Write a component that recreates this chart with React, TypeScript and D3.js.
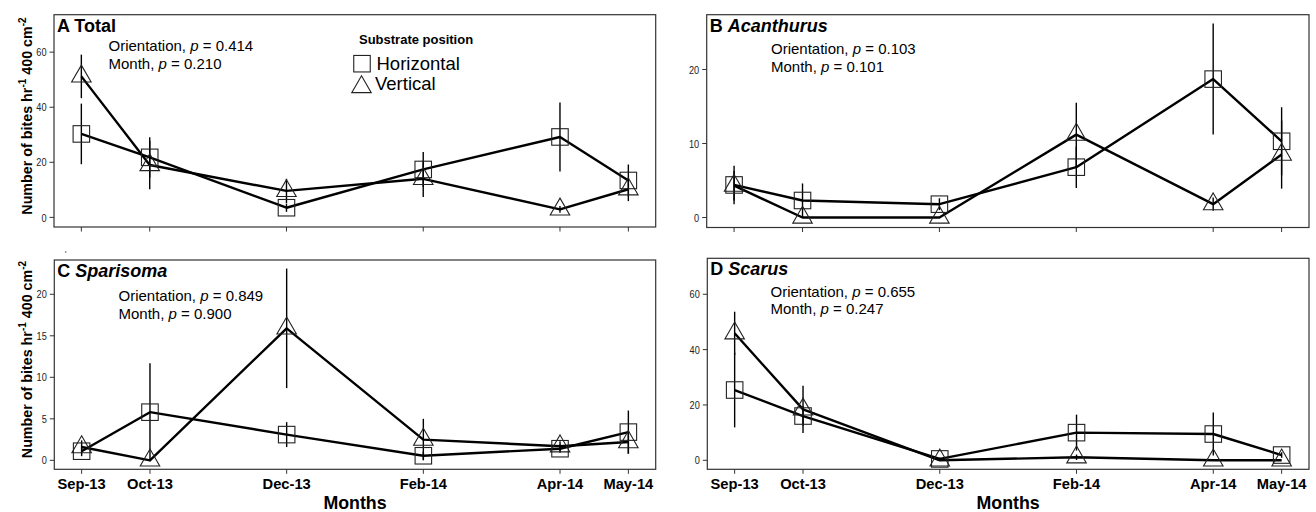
import React, { useRef, useEffect } from 'react';
import * as d3 from 'd3';

// sampling months and their position in months from Sep-13
const months = ["Sep-13", "Oct-13", "Dec-13", "Feb-14", "Apr-14", "May-14"];
const monthIndex = [0, 1, 3, 5, 7, 8];

// A Total
const totalHorizontal = [30.3, 21.8, 3.5, 17.4, 29.2, 13.4];
const totalHorizontalSE = [11.0, 7.3, 1.5, 6.3, 12.5, 5.8];
const totalVertical = [51.2, 19.0, 9.6, 14.0, 2.9, 10.2];
const totalVerticalSE = [7.9, 8.8, 4.4, 6.6, 1.2, 4.3];

// B Acanthurus
const acanHorizontal = [4.4, 2.3, 1.8, 6.8, 18.7, 10.3];
const acanHorizontalSE = [2.6, 2.3, 0.8, 2.8, 7.5, 4.6];
const acanVertical = [4.3, 0, 0, 11.2, 1.8, 8.5];
const acanVerticalSE = [2.0, 0, 0, 4.3, 0.9, 4.6];

// C Sparisoma
const sparHorizontal = [1.1, 5.8, 3.1, 0.55, 1.4, 3.4];
const sparHorizontalSE = [0.6, 5.9, 1.5, 0.5, 0.5, 2.6];
const sparVertical = [1.6, 0, 15.9, 2.5, 1.7, 2.2];
const sparVerticalSE = [0.8, 0, 7.2, 2.5, 0.6, 1.4];

// D Scarus
const scarHorizontal = [25.4, 16.0, 0.5, 10.0, 9.5, 1.9];
const scarHorizontalSE = [13.5, 3.5, 0.5, 6.5, 7.8, 1.0];
const scarVertical = [45.9, 18.4, 0, 1.1, 0, 0];
const scarVerticalSE = [7.8, 8.5, 0, 1.0, 0, 0];

const yTicksA = [0, 20, 40, 60];
const yTicksB = [0, 10, 20];
const yTicksC = [0, 5, 10, 15, 20];
const yTicksD = [0, 20, 40, 60];

const stats = {
    A: ["0.414", "0.210"],
    B: ["0.103", "0.101"],
    C: ["0.849", "0.900"],
    D: ["0.655", "0.247"],
};

const FONT = '"Liberation Sans", Arial, Helvetica, sans-serif';

const panels = [
    { letter: "A", name: "Total", italic: false, h: totalHorizontal, hse: totalHorizontalSE, v: totalVertical, vse: totalVerticalSE,
      ticks: yTicksA, yDomain: [-3.5, 73.6], box: [54, 655.7, 14.7, 227], stat: [108.5, 51, 68.5], yLabel: 116, xLabels: false, legend: true },
    { letter: "B", name: "Acanthurus", italic: true, h: acanHorizontal, hse: acanHorizontalSE, v: acanVertical, vse: acanVerticalSE,
      ticks: yTicksB, yDomain: [-1.35, 27.4], box: [706.7, 1309, 14.7, 227.5], stat: [771, 54, 71.5], yLabel: null, xLabels: false, legend: false },
    { letter: "C", name: "Sparisoma", italic: true, h: sparHorizontal, hse: sparHorizontalSE, v: sparVertical, vse: sparVerticalSE,
      ticks: yTicksC, yDomain: [-1.08, 24.13], box: [54.3, 655.7, 260, 469.3], stat: [118.5, 301, 318.5], yLabel: 359.5, xLabels: true, legend: false },
    { letter: "D", name: "Scarus", italic: true, h: scarHorizontal, hse: scarHorizontalSE, v: scarVertical, vse: scarVerticalSE,
      ticks: yTicksD, yDomain: [-3.25, 73.0], box: [707.3, 1309, 258.3, 469.3], stat: [770.5, 296.5, 314], yLabel: null, xLabels: true, legend: false },
];

const SQ = 16.5;
const TRI_W = 19.5;
const triPath = (w) => {
    const r = w / Math.sqrt(3);
    return `M0,${-r}L${w / 2},${r / 2}L${-w / 2},${r / 2}Z`;
};

export default function App() {
    const svgRef = useRef(null);

    useEffect(() => {
        const svg = d3.select(svgRef.current);
        svg.selectAll('*').remove();

        svg.append('rect').attr('width', 1316).attr('height', 512).attr('fill', '#fff');

        panels.forEach(p => {
            const [x0, x1, y0, y1] = p.box;
            const x = d3.scaleLinear().domain([-0.4, 8.4]).range([x0, x1]);
            const y = d3.scaleLinear().domain(p.yDomain).range([y1, y0]);
            const g = svg.append('g');

            // frame
            g.append('rect')
                .attr('x', x0).attr('y', y0)
                .attr('width', x1 - x0).attr('height', y1 - y0)
                .attr('fill', 'none').attr('stroke', '#333').attr('stroke-width', 1.2);

            // y axis ticks (narrow numerals like the original)
            p.ticks.forEach(t => {
                g.append('line')
                    .attr('x1', x0 - 4.5).attr('x2', x0)
                    .attr('y1', y(t)).attr('y2', y(t))
                    .attr('stroke', '#333').attr('stroke-width', 1);
                g.append('text')
                    .attr('transform', `translate(${x0 - 7.5},${y(t)}) scale(0.8,1)`)
                    .attr('dy', '0.36em')
                    .attr('text-anchor', 'end')
                    .attr('font-family', FONT).attr('font-size', 11.5)
                    .attr('fill', '#222')
                    .text(t);
            });

            // x axis ticks
            monthIndex.forEach((m, i) => {
                g.append('line')
                    .attr('x1', x(m)).attr('x2', x(m))
                    .attr('y1', y1).attr('y2', y1 + 4.5)
                    .attr('stroke', '#333').attr('stroke-width', 1);
                if (p.xLabels) {
                    g.append('text')
                        .attr('x', x(m)).attr('y', 488.5)
                        .attr('text-anchor', 'middle')
                        .attr('font-family', FONT).attr('font-size', 14.7)
                        .attr('font-weight', 'bold')
                        .text(months[i]);
                }
            });

            if (p.xLabels) {
                g.append('text')
                    .attr('x', (x0 + x1) / 2).attr('y', 509)
                    .attr('text-anchor', 'middle')
                    .attr('font-family', FONT).attr('font-size', 17.8)
                    .attr('font-weight', 'bold')
                    .text('Months');
            }

            if (p.yLabel !== null) {
                const lab = g.append('text')
                    .attr('transform', `translate(32,${p.yLabel}) rotate(-90)`)
                    .attr('text-anchor', 'middle')
                    .attr('font-family', FONT).attr('font-size', 14.3)
                    .attr('font-weight', 'bold');
                lab.append('tspan').text('Number of bites hr');
                lab.append('tspan').attr('dy', -6).attr('font-size', 10).text('-1');
                lab.append('tspan').attr('dy', 6).text(' 400 cm');
                lab.append('tspan').attr('dy', -6).attr('font-size', 10).text('-2');
            }

            // series: error bars, lines, symbols
            const series = [
                { mean: p.h, se: p.hse, shape: 'square' },
                { mean: p.v, se: p.vse, shape: 'triangle' },
            ];

            series.forEach(s => {
                s.mean.forEach((m, i) => {
                    if (s.se[i] <= 0) return;
                    g.append('line')
                        .attr('x1', x(monthIndex[i])).attr('x2', x(monthIndex[i]))
                        .attr('y1', y(m - s.se[i])).attr('y2', y(m + s.se[i]))
                        .attr('stroke', '#000').attr('stroke-width', 1.4);
                });
            });

            const line = d3.line()
                .x((d, i) => x(monthIndex[i]))
                .y(d => y(d));

            series.forEach(s => {
                g.append('path')
                    .datum(s.mean)
                    .attr('d', line)
                    .attr('fill', 'none')
                    .attr('stroke', '#000')
                    .attr('stroke-width', 2.4)
                    .attr('stroke-linejoin', 'round');
            });

            series.forEach(s => {
                s.mean.forEach((m, i) => {
                    const cx = x(monthIndex[i]);
                    const cy = y(m);
                    if (s.shape === 'square') {
                        g.append('rect')
                            .attr('x', cx - SQ / 2).attr('y', cy - SQ / 2)
                            .attr('width', SQ).attr('height', SQ)
                            .attr('fill', 'none').attr('stroke', '#222').attr('stroke-width', 1.1);
                    } else {
                        g.append('path')
                            .attr('d', triPath(TRI_W))
                            .attr('transform', `translate(${cx},${cy})`)
                            .attr('fill', 'none').attr('stroke', '#222').attr('stroke-width', 1.1);
                    }
                });
            });

            // panel title
            const title = g.append('text')
                .attr('x', x0 + 3).attr('y', y0 + 17)
                .attr('font-family', FONT).attr('font-size', 18)
                .attr('font-weight', 'bold');
            title.append('tspan').text(p.letter + ' ');
            title.append('tspan').attr('font-style', p.italic ? 'italic' : 'normal').text(p.name);

            // statistics
            const [sx, sy1, sy2] = p.stat;
            const [po, pm] = stats[p.letter];
            [["Orientation, ", po, sy1], ["Month, ", pm, sy2]].forEach(([lbl, val, yy]) => {
                const t = g.append('text')
                    .attr('x', sx).attr('y', yy)
                    .attr('font-family', FONT).attr('font-size', 15);
                t.append('tspan').text(lbl);
                t.append('tspan').attr('font-style', 'italic').text('p');
                t.append('tspan').text(' = ' + val);
            });

            if (p.legend) {
                g.append('text')
                    .attr('x', 359).attr('y', 43.5)
                    .attr('font-family', FONT).attr('font-size', 13)
                    .attr('font-weight', 'bold')
                    .text('Substrate position');
                g.append('rect')
                    .attr('x', 362 - SQ / 2).attr('y', 63.7 - SQ / 2)
                    .attr('width', SQ).attr('height', SQ)
                    .attr('fill', 'none').attr('stroke', '#222').attr('stroke-width', 1.1);
                g.append('text')
                    .attr('x', 376.5).attr('y', 70)
                    .attr('font-family', FONT).attr('font-size', 18.5)
                    .text('Horizontal');
                g.append('path')
                    .attr('d', triPath(TRI_W))
                    .attr('transform', 'translate(361.5,87)')
                    .attr('fill', 'none').attr('stroke', '#222').attr('stroke-width', 1.1);
                g.append('text')
                    .attr('x', 375).attr('y', 89.5)
                    .attr('font-family', FONT).attr('font-size', 18.5)
                    .text('Vertical');
            }
        });

        // stray mark from the original figure
        svg.append('circle').attr('cx', 65.7).attr('cy', 252).attr('r', 0.8).attr('fill', '#555');

        return () => {
            d3.select(svgRef.current).selectAll('*').remove();
        };
    }, []);

    return (
        <svg ref={svgRef} width={1316} height={512}
            style={{ position: 'absolute', left: 0, top: 0, display: 'block' }} />
    );
}
